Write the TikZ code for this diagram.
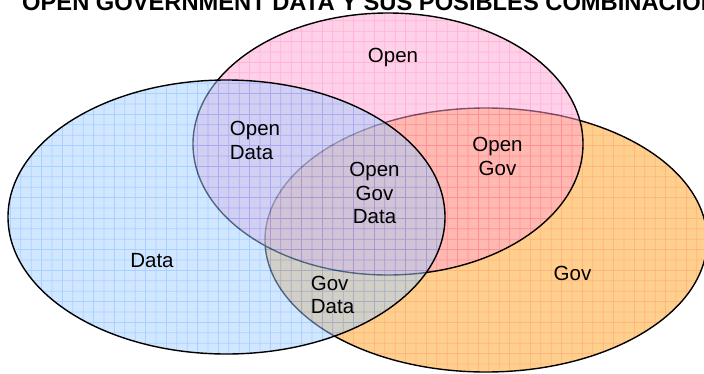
\documentclass[tikz,border=0pt]{standalone}
\usepackage{fontspec}
\setmainfont{Liberation Sans}
\definecolor{blueP}{RGB}{165,208,255}
\definecolor{blueL}{RGB}{85,165,255}
\definecolor{pinkP}{RGB}{255,165,212}
\definecolor{pinkL}{RGB}{255,105,180}
\definecolor{oranP}{RGB}{255,160,30}
\definecolor{oranL}{RGB}{255,110,0}
\tikzset{
  outline/.style={draw=black,line width=1.4pt},
  gridline/.style={line width=0.75pt},
  lbl/.style={inner sep=0pt,font=\fontsize{20.5}{23.5}\selectfont,text=black},
}
\begin{document}
\begin{tikzpicture}[x=1pt,y=-1pt]
\useasboundingbox (0,0) rectangle (704,373);
\clip (0,0) rectangle (704,373);
\fill[white] (0,0) rectangle (704,373);
% Gov (orange)
\begin{scope}[transparency group,opacity=0.5]
  \fill[oranP] (486,240) ellipse [x radius=221pt,y radius=132pt];
  \clip (486,240) ellipse [x radius=221pt,y radius=132pt];
  \foreach \k in {0,...,70} \draw[gridline,oranL] (\k*10.4,0) -- (\k*10.4,373);
  \foreach \k in {0,...,36} \draw[gridline,oranL] (0,\k*10.4) -- (704,\k*10.4);
\end{scope}
\draw[outline] (486,240) ellipse [x radius=221pt,y radius=132pt];
% Open (pink)
\begin{scope}[transparency group,opacity=0.5]
  \fill[pinkP] (388,144) ellipse [x radius=195pt,y radius=131pt];
  \clip (388,144) ellipse [x radius=195pt,y radius=131pt];
  \foreach \k in {0,...,70} \draw[gridline,pinkL] (\k*10.4,0) -- (\k*10.4,373);
  \foreach \k in {0,...,36} \draw[gridline,pinkL] (0,\k*10.4) -- (704,\k*10.4);
\end{scope}
\draw[outline] (388,144) ellipse [x radius=195pt,y radius=131pt];
% Data (blue)
\begin{scope}[transparency group,opacity=0.5]
  \fill[blueP] (226.5,217) ellipse [x radius=218.5pt,y radius=137pt];
  \clip (226.5,217) ellipse [x radius=218.5pt,y radius=137pt];
  \foreach \k in {0,...,70} \draw[gridline,blueL] (\k*10.4,0) -- (\k*10.4,373);
  \foreach \k in {0,...,36} \draw[gridline,blueL] (0,\k*10.4) -- (704,\k*10.4);
\end{scope}
\draw[outline] (226.5,217) ellipse [x radius=218.5pt,y radius=137pt];
% title
\node[inner sep=0pt,anchor=base west,font=\fontsize{23.7}{26}\selectfont\bfseries] (title) at (22,10.5) {OPEN GOVERNMENT DATA Y SUS POSIBLES COMBINACIONES};
% labels
\node[lbl,anchor=base] (open) at (393,62) {Open};
\node[lbl,anchor=base] (data) at (152,267) {Data};
\node[lbl,anchor=base] (gov) at (572.5,280) {Gov};
\node[lbl,align=left] (opendata) at (255,140.2) {Open\\Data};
\node[lbl,align=center] (opengov) at (497.5,156.5) {Open\\Gov};
\node[lbl,align=center] (ogd) at (374.5,193.2) {Open\\Gov\\Data};
\node[lbl,align=left] (govdata) at (332.5,294.7) {Gov\\Data};
\end{tikzpicture}
\end{document}
